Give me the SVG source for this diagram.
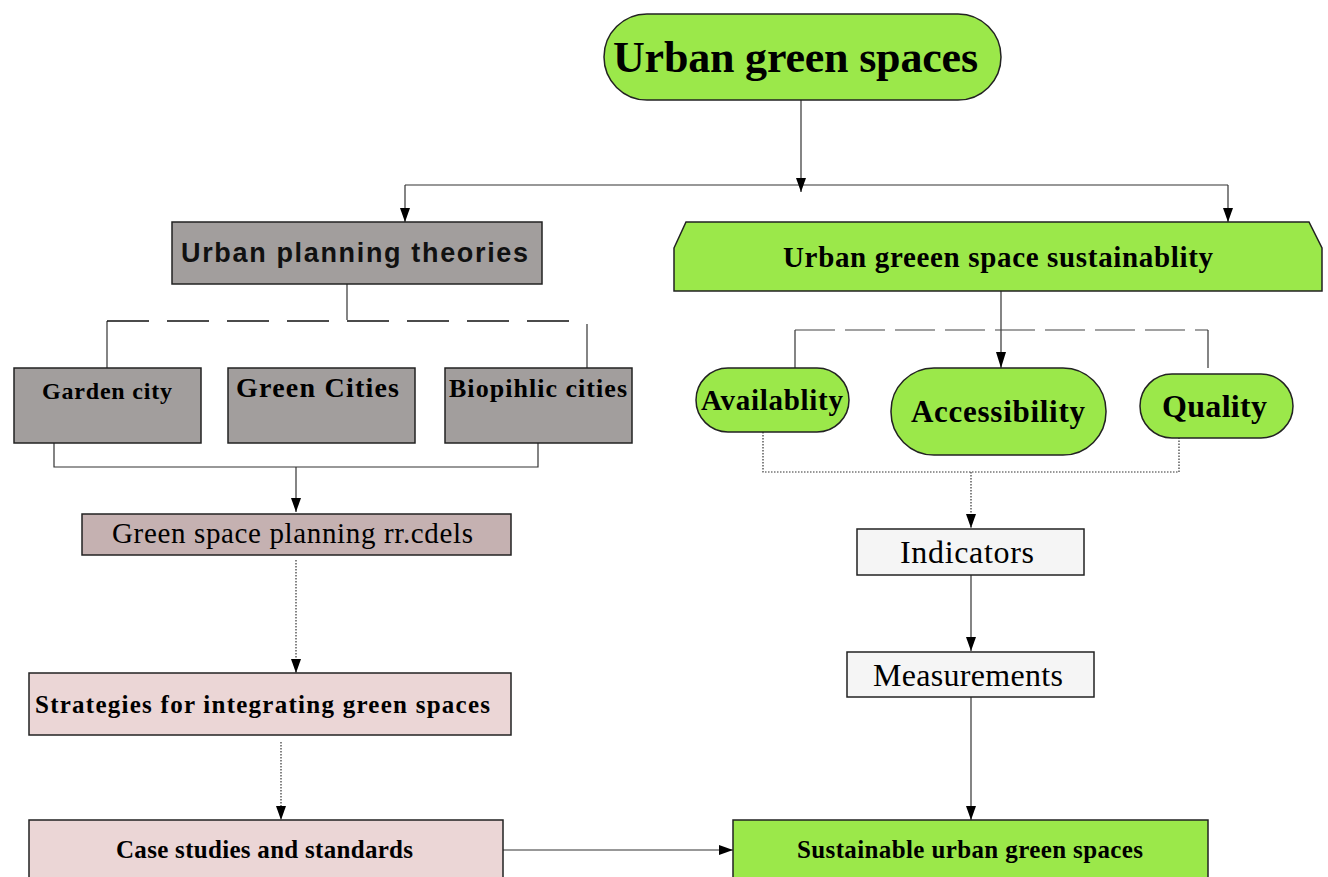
<svg xmlns="http://www.w3.org/2000/svg" width="1328" height="877" viewBox="0 0 1328 877">
<style>
.box{stroke:#222;stroke-width:1.5}
.green{fill:#9be84a}
.gray{fill:#a29e9d}
.rose{fill:#c5b1b1}
.pink{fill:#ebd6d6}
.light{fill:#f5f5f5}
.sb{font-family:"Liberation Serif",serif;font-weight:bold;fill:#000}
.sr{font-family:"Liberation Serif",serif;fill:#000}
.ab{font-family:"Liberation Sans",Arial,sans-serif;font-weight:bold;fill:#111}
.ln{fill:none;stroke:#333;stroke-width:1.2}
.dash{stroke:#111;stroke-width:1.6;stroke-dasharray:42 18}
.dash2{stroke:#444;stroke-dasharray:40 10}
.dot{stroke-dasharray:1.5 1.5}
</style>

<g id="connectors">
<path class="ln" d="M801,100 V192"/>
<path class="ln" d="M405,185 H1228"/>
<path class="ln" d="M405,185 V222"/>
<path class="ln" d="M1228,185 V222"/>
<path class="ln" d="M347,277 V320"/>
<path class="ln" d="M107,368 V321"/>
<path class="ln dash" d="M107,321 H573"/>
<path class="ln" d="M587,324 V368"/>
<path class="ln" d="M54,443 V467 H538 V443"/>
<path class="ln" d="M296,467 V512"/>
<path class="ln dot" d="M296,560 V673"/>
<path class="ln dot" d="M281,742 V820"/>
<path class="ln" d="M503,850 H733"/>
<path class="ln" d="M1001,291 V368"/>
<path class="ln" d="M795,368 V330"/>
<path class="ln dash2" d="M795,330 H1208"/>
<path class="ln" d="M1208,330 V368"/>
<path class="ln dot" d="M763,432 V472 H1179 V437"/>
<path class="ln dot" d="M971,472 V528"/>
<path class="ln" d="M971,575 V651"/>
<path class="ln" d="M971,697 V820"/>
<g fill="#000">
<path d="M796,178 L806,178 L801,192 Z"/>
<path d="M400,208 L410,208 L405,222 Z"/>
<path d="M1223,208 L1233,208 L1228,222 Z"/>
<path d="M291,498 L301,498 L296,512 Z"/>
<path d="M291,659 L301,659 L296,673 Z"/>
<path d="M276,806 L286,806 L281,820 Z"/>
<path d="M719,845 L719,855 L733,850 Z"/>
<path d="M996,352 L1006,352 L1001,368 Z"/>
<path d="M966,514 L976,514 L971,528 Z"/>
<path d="M966,637 L976,637 L971,651 Z"/>
<path d="M966,806 L976,806 L971,820 Z"/>
</g>
</g>

<g id="n-urban-green-spaces">
<rect class="box green" x="604" y="14" width="397" height="86" rx="43"/>
<text class="sb" x="613" y="72" font-size="44" textLength="365">Urban green spaces</text>
</g>

<g id="n-urban-planning-theories">
<rect class="box gray" x="172" y="222" width="370" height="62"/>
<text class="ab" x="181" y="262" font-size="27" textLength="347">Urban planning theories</text>
</g>

<g id="n-garden-city">
<rect class="box gray" x="14" y="368" width="187" height="75"/>
<text class="sb" x="42" y="399" font-size="24" textLength="130">Garden city</text>
</g>
<g id="n-green-cities">
<rect class="box gray" x="228" y="368" width="187" height="75"/>
<text class="sb" x="236" y="397" font-size="28" textLength="163">Green Cities</text>
</g>
<g id="n-biophilic">
<rect class="box gray" x="445" y="368" width="187" height="75"/>
<text class="sb" x="449" y="397" font-size="26" textLength="178">Biopihlic cities</text>
</g>

<g id="n-models">
<rect class="box rose" x="82" y="514" width="429" height="41"/>
<text class="sr" x="112" y="543" font-size="29" textLength="361">Green space planning rr.cdels</text>
</g>

<g id="n-strategies">
<rect class="box pink" x="29" y="673" width="482" height="62"/>
<text class="sb" x="35" y="713" font-size="25" textLength="455">Strategies  for integrating green spaces</text>
</g>

<g id="n-case">
<rect class="box pink" x="29" y="820" width="474" height="70"/>
<text class="sb" x="116" y="858" font-size="25" textLength="297">Case studies and standards</text>
</g>

<g id="n-sustainable">
<rect class="box green" x="733" y="820" width="475" height="70"/>
<text class="sb" x="797" y="858" font-size="25" textLength="346">Sustainable urban green spaces</text>
</g>

<g id="n-sustainability">
<path class="box green" d="M674,248 L686,222 L1309,222 L1322,248 L1322,291 L674,291 Z"/>
<text class="sb" x="783" y="267" font-size="29" textLength="430">Urban greeen space sustainablity</text>
</g>

<g id="n-availability">
<rect class="box green" x="696" y="368" width="153" height="64" rx="32"/>
<text class="sb" x="701" y="410" font-size="29" textLength="142">Availablity</text>
</g>
<g id="n-accessibility">
<rect class="box green" x="891" y="368" width="215" height="87" rx="43"/>
<text class="sb" x="911" y="422" font-size="31" textLength="174">Accessibility</text>
</g>
<g id="n-quality">
<rect class="box green" x="1140" y="374" width="153" height="64" rx="32"/>
<text class="sb" x="1162" y="417" font-size="32" textLength="105">Quality</text>
</g>

<g id="n-indicators">
<rect class="box light" x="857" y="529" width="227" height="46"/>
<text class="sr" x="900" y="563" font-size="32" textLength="134">Indicators</text>
</g>
<g id="n-measurements">
<rect class="box light" x="847" y="652" width="247" height="45"/>
<text class="sr" x="873" y="686" font-size="32" textLength="190">Measurements</text>
</g>
</svg>
